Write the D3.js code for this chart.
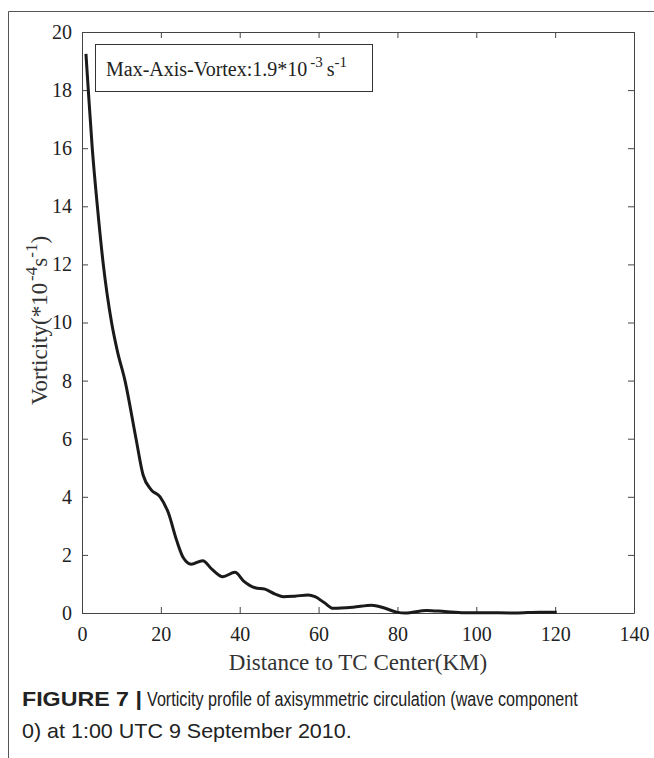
<!DOCTYPE html>
<html>
<head>
<meta charset="utf-8">
<script src="https://cdn.jsdelivr.net/npm/d3@7"></script>
<style>
  body { margin: 0; background: #fff; }
  svg { display: block; }
</style>
</head>
<body>
<div id="chart"></div>
<script>
// distance from TC center (km) and vorticity (*10^-4 s^-1)
var distance = [1, 1.6, 2.6, 3.9, 5.4, 7.5, 9, 10.9, 13.7, 15.5, 17.5, 19.8, 21.9, 24, 25.7,
    27.7, 30.6, 33, 35.7, 38.8, 41, 43.9, 46.4, 49, 51.1, 54, 57.4, 59.1, 61.5, 63.7,
    68.8, 73.5, 76.5, 79.8, 82, 87.4, 92, 97, 101, 110, 116, 120.4];
var vorticity = [19.25, 18, 16, 14, 12, 10, 9.0, 8, 6, 4.75, 4.25, 4.0, 3.45, 2.5, 1.9,
    1.68, 1.8, 1.5, 1.25, 1.4, 1.1, 0.87, 0.82, 0.65, 0.56, 0.58, 0.62, 0.56, 0.35, 0.16,
    0.2, 0.27, 0.18, 0.03, 0.0, 0.09, 0.05, 0.01, 0.01, 0.0, 0.03, 0.03];
var xTicks = [0, 20, 40, 60, 80, 100, 120, 140];
var yTicks = [0, 2, 4, 6, 8, 10, 12, 14, 16, 18, 20];

var W = 654, H = 758;
var margin = { top: 32, right: 20, bottom: 145, left: 82 },
    width = 634 - margin.left,
    height = 613 - margin.top;

var svg = d3.select("#chart").append("svg")
    .attr("width", W)
    .attr("height", H);

// page frame (top + left rule)
svg.append("path")
    .attr("d", "M8.5," + H + "V11.5H" + W)
    .attr("fill", "none")
    .attr("stroke", "#555")
    .attr("stroke-width", 1);

var g = svg.append("g")
    .attr("transform", "translate(" + margin.left + "," + margin.top + ")");

var x = d3.scaleLinear().domain([0, 140]).range([0, width]);
var y = d3.scaleLinear().domain([0, 20]).range([height, 0]);

var axisColor = "#444";
var tickFont = "'Liberation Serif', 'Times New Roman', serif";

function styleAxis(sel) {
    sel.select(".domain").attr("stroke", axisColor);
    sel.selectAll(".tick line").attr("stroke", axisColor);
    sel.selectAll(".tick text")
        .attr("fill", "#222")
        .style("font-family", tickFont)
        .style("font-size", "20px");
}

// bottom + left axes, ticks pointing inward
g.append("g")
    .attr("transform", "translate(0," + height + ")")
    .call(d3.axisBottom(x).tickValues(xTicks).tickSizeInner(-6).tickSizeOuter(0).tickPadding(14))
    .call(styleAxis);

g.append("g")
    .call(d3.axisLeft(y).tickValues(yTicks).tickSizeInner(-6).tickSizeOuter(0).tickPadding(10))
    .call(styleAxis);

// top + right axes without labels
g.append("g")
    .call(d3.axisTop(x).tickValues(xTicks).tickSizeInner(-6).tickSizeOuter(0).tickFormat(""))
    .call(styleAxis);

g.append("g")
    .attr("transform", "translate(" + width + ",0)")
    .call(d3.axisRight(y).tickValues(yTicks).tickSizeInner(-6).tickSizeOuter(0).tickFormat(""))
    .call(styleAxis);

// the profile line
var line = d3.line()
    .x(function (d, i) { return x(distance[i]); })
    .y(function (d) { return y(d); })
    .curve(d3.curveMonotoneX);

g.append("path")
    .datum(vorticity)
    .attr("fill", "none")
    .attr("stroke", "#1a1a1a")
    .attr("stroke-width", 3)
    .attr("stroke-linejoin", "round")
    .attr("d", line);

// annotation box
g.append("rect")
    .attr("x", 13.5)
    .attr("y", 12.5)
    .attr("width", 277)
    .attr("height", 47)
    .attr("fill", "#fff")
    .attr("stroke", "#333")
    .attr("stroke-width", 1);

var note = g.append("text")
    .attr("x", 24)
    .attr("y", 44)
    .style("font-family", tickFont)
    .style("font-size", "20px")
    .attr("fill", "#222");
note.append("tspan").text("Max-Axis-Vortex:1.9*10");
note.append("tspan").attr("dy", -9).attr("dx", 3).style("font-size", "15px").text("-3");
note.append("tspan").attr("dy", 9).attr("dx", 4).text("s");
note.append("tspan").attr("dy", -9).style("font-size", "15px").text("-1");

// x axis title
g.append("text")
    .attr("x", width / 2)
    .attr("y", height + 57)
    .attr("text-anchor", "middle")
    .style("font-family", tickFont)
    .style("font-size", "23px")
    .attr("fill", "#333")
    .text("Distance to TC Center(KM)");

// y axis title
var yt = svg.append("text")
    .attr("transform", "translate(47," + (margin.top + height / 2 - 2) + ") rotate(-90)")
    .attr("text-anchor", "middle")
    .style("font-family", tickFont)
    .style("font-size", "23px")
    .attr("fill", "#333");
yt.append("tspan").text("Vorticity(*10");
yt.append("tspan").attr("dy", -10).attr("dx", 2).style("font-size", "17px").text("-4");
yt.append("tspan").attr("dy", 10).text("s");
yt.append("tspan").attr("dy", -10).style("font-size", "17px").text("-1");
yt.append("tspan").attr("dy", 10).text(")");

// caption: condensed look by scaling each piece horizontally to its width
var capFont = "'Liberation Sans Narrow', 'Liberation Sans', Arial, sans-serif";
function captionPiece(str, x0, y0, w, bold) {
    var gg = svg.append("g");
    var t = gg.append("text")
        .attr("x", 0)
        .attr("y", 0)
        .style("font-family", capFont)
        .style("font-size", "20px")
        .style("font-weight", bold ? "bold" : "normal")
        .attr("fill", "#222")
        .text(str);
    var k = w / t.node().getComputedTextLength();
    gg.attr("transform", "translate(" + x0 + "," + y0 + ") scale(" + k + ",1)");
}
captionPiece("FIGURE 7 |", 22, 706, 120, true);
captionPiece("Vorticity profile of axisymmetric circulation (wave component", 147, 706, 431, false);
captionPiece("0) at 1:00 UTC 9 September 2010.", 22, 738, 330, false);
</script>
</body>
</html>
